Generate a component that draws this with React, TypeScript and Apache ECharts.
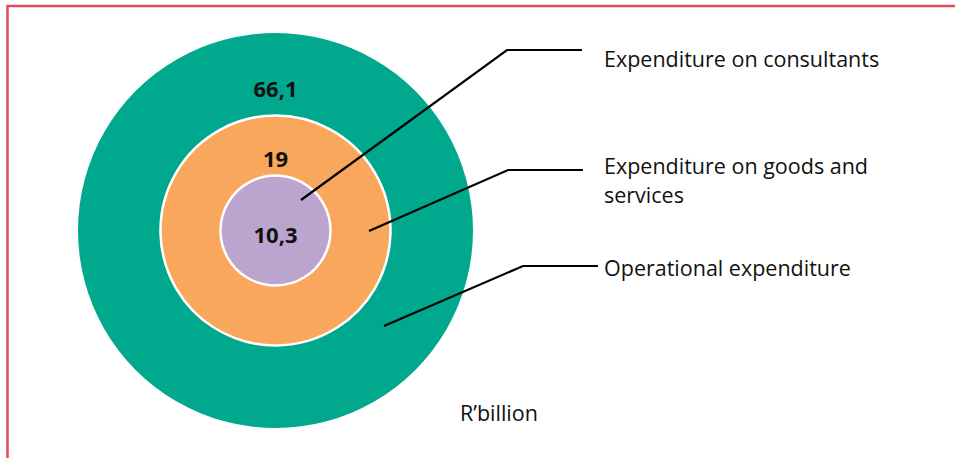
import React, { useEffect, useRef } from "react";
import * as echarts from "echarts";

const categories = ["Operational expenditure", "Expenditure on goods and\nservices", "Expenditure on consultants"];
const values = [66.1, 19, 10.3];
const valueLabels = ["66,1", "19", "10,3"];
const colors = ["#00a88e", "#f9a75c", "#bba5cf"];
const unitLabel = "R\u2019billion";

export default function App() {
  const ref = useRef<HTMLDivElement>(null);
  useEffect(() => {
    if (!ref.current) return;
    const chart = echarts.init(ref.current, null, { renderer: "svg" });
    const cx = 275.5;
    const cy = 230.5;
    const radii = [197.5, 115, 55];
    const labelY = [88, 158, 234];
    const series: any[] = values.map((v, i) => ({
      type: "pie",
      name: categories[i],
      center: [cx, cy],
      radius: [0, radii[i]],
      silent: true,
      z: 2 + i,
      label: { show: false },
      labelLine: { show: false },
      itemStyle: {
        color: colors[i],
        borderColor: "#ffffff",
        borderWidth: i === 0 ? 0 : 2.5,
      },
      data: [{ name: categories[i], value: v }],
    }));
    const font = "'Open Sans', 'Noto Sans', sans-serif";
    const leaders = [
      { pts: [[384, 326], [523, 266], [598, 266]], ty: 267 },
      { pts: [[369, 231], [508, 170], [583, 170]], ty: 180 },
      { pts: [[301, 200], [507, 50], [582, 50]], ty: 58 },
    ];
    const graphic: any[] = [
      {
        type: "polyline",
        shape: { points: [[7.5, 458], [7.5, 6], [955, 6]] },
        style: { stroke: "#e14b5a", lineWidth: 2.5, fill: "none" },
        z: 10,
      },
    ];
    values.forEach((_, i) => {
      graphic.push({
        type: "text",
        x: cx,
        y: labelY[i],
        z: 20,
        style: {
          text: valueLabels[i],
          fill: "#111111",
          font: `bold 22px ${font}`,
          textAlign: "center",
          textVerticalAlign: "middle",
        },
      });
      graphic.push({
        type: "polyline",
        z: 20,
        shape: { points: leaders[i].pts },
        style: { stroke: "#000000", lineWidth: 2.2, fill: "none" },
      });
      graphic.push({
        type: "text",
        x: 604,
        y: leaders[i].ty,
        z: 20,
        style: {
          text: categories[i],
          fill: "#111111",
          font: `21.5px ${font}`,
          lineHeight: 29,
          textAlign: "left",
          textVerticalAlign: "middle",
        },
      });
    });
    graphic.push({
      type: "text",
      x: 460,
      y: 412,
      z: 20,
      style: {
        text: unitLabel,
        fill: "#111111",
        font: `21.5px ${font}`,
        textAlign: "left",
        textVerticalAlign: "middle",
      },
    });
    chart.setOption({
      animation: false,
      backgroundColor: "#ffffff",
      series,
      graphic,
    });
    return () => chart.dispose();
  }, []);
  return (
    <div
      ref={ref}
      style={{ position: "fixed", left: 0, top: 0, width: 955, height: 458 }}
    />
  );
}
